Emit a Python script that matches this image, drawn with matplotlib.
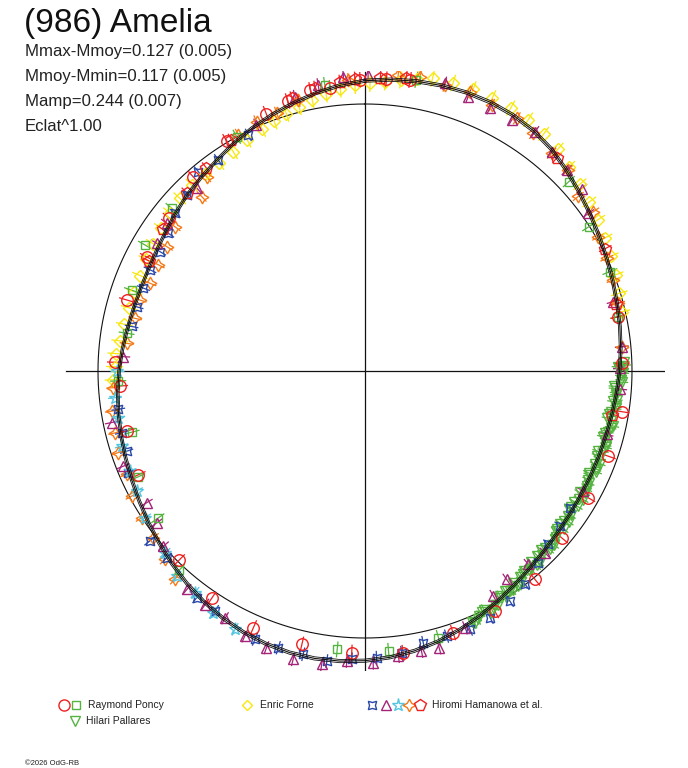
import numpy as np
import matplotlib
matplotlib.use("Agg")
import matplotlib.pyplot as plt
from matplotlib.collections import LineCollection

# ---------------- data ----------------
title = "(986) Amelia"
stats_lines = ["Mmax-Mmoy=0.127 (0.005)", "Mmoy-Mmin=0.117 (0.005)",
               "Mamp=0.244 (0.007)", "Eclat^1.00"]
copyright_text = "\u00a92026 OdG-RB"

# fitted curve: phase angle (deg, clockwise from top) and relative flux
curve_phase = list(range(0, 360, 5))
curve_flux = [1.0873, 1.0955, 1.1022, 1.1071, 1.1101, 1.1105, 1.1071, 1.0993, 1.0854,
              1.0655, 1.0457, 1.0281, 1.0124, 0.9989, 0.9873, 0.9775, 0.9693, 0.9614,
              0.9536, 0.9457, 0.9390, 0.9345, 0.9322, 0.9315, 0.9326, 0.9360, 0.9416,
              0.9502, 0.9618, 0.9768, 0.9944, 1.0135, 1.0322, 1.0494, 1.0644, 1.0764,
              1.0850, 1.0906, 1.0929, 1.0918, 1.0869, 1.0787, 1.0674, 1.0536, 1.0382,
              1.0217, 1.0052, 0.9899, 0.9760, 0.9640, 0.9539, 0.9453, 0.9375, 0.9296,
              0.9213, 0.9124, 0.9041, 0.8981, 0.8951, 0.8963, 0.9015, 0.9109, 0.9240,
              0.9382, 0.9506, 0.9655, 0.9843, 1.0030, 1.0210, 1.0386, 1.0569, 1.0742]
curve_sigma_mag = 0.006

# Raymond Poncy
poncy_circle_phase = [344, 339, 329, 318.5, 308, 297.6, 286.6, 272, 349, 353, 359, 4.2,
                      8.8, 77.9, 88.3, 99, 109.3, 119.6, 130.3, 140.8, 151.6, 161.4,
                      172.3, 182.7, 193, 203.5, 214, 224.5, 245.4, 255.9, 266.5]
poncy_circle_flux = [1.052, 1.033, 1.005, 0.971, 0.931, 0.921, 0.931, 0.937, 1.072,
                     1.067, 1.090, 1.095, 1.103, 0.970, 0.962, 0.973, 0.965, 0.961,
                     0.966, 1.007, 1.022, 1.034, 1.065, 1.056, 1.051, 1.048, 1.027,
                     0.993, 0.934, 0.920, 0.919]
poncy_square_phase = [299.8, 310.1, 289.1, 352, 331.3, 279, 47.1, 57.2, 67.9, 77.9, 88.7,
                      10, 255.3, 245, 234.6, 223, 185.7, 267.7, 175.2, 164.6]
poncy_square_flux = [0.949, 0.946, 0.925, 1.082, 1.000, 0.904, 1.042, 0.998, 0.990,
                     0.970, 0.968, 1.107, 0.903, 0.939, 0.952, 1.020, 1.048, 0.925,
                     1.052, 1.036]

# Enric Forne
forne_phase = [268, 271, 274, 277, 281, 285, 289, 293, 297, 301, 305, 309, 313, 317, 321,
               325, 329, 333, 337, 340, 343, 346, 349, 352, 355, 358, 1, 4, 7, 10, 13,
               17, 21, 25, 29, 33, 37, 41, 45, 49, 53, 57, 61, 65, 69, 73, 77]
forne_flux = [0.944, 0.938, 0.935, 0.925, 0.918, 0.915, 0.914, 0.915, 0.920, 0.925,
              0.932, 0.940, 0.948, 0.952, 0.950, 0.952, 0.958, 0.972, 0.985, 0.995,
              1.008, 1.020, 1.035, 1.048, 1.060, 1.070, 1.077, 1.085, 1.098, 1.112,
              1.125, 1.128, 1.130, 1.128, 1.126, 1.122, 1.112, 1.100, 1.080, 1.066,
              1.052, 1.040, 1.027, 1.016, 1.005, 0.996, 0.988]

# Hiromi Hamanowa et al. (five sets)
ham_blue_phase = [320.1, 314.6, 309.7, 305, 300.2, 295.2, 290.5, 285.7, 280.8, 325.2,
                  333.7, 261.2, 255.8, 251.4, 246.7, 231.7, 226.7, 216.6, 212, 202.3,
                  197.4, 192.3, 187.5, 182.6, 177.7, 172.6, 167.9, 162.9, 157.9, 153.1,
                  147.8, 143.1, 137.9, 133.4, 128.5, 123.7]
ham_blue_flux = [0.973, 0.938, 0.925, 0.899, 0.888, 0.890, 0.886, 0.888, 0.890, 0.963,
                 0.986, 0.935, 0.940, 0.942, 0.965, 1.027, 1.020, 1.057, 1.060, 1.086,
                 1.086, 1.086, 1.096, 1.081, 1.075, 1.064, 1.041, 1.039, 1.044, 1.036,
                 1.018, 0.999, 0.968, 0.945, 0.933, 0.923]
ham_purple_phase = [20.6, 25.4, 30.3, 35.4, 40.4, 45.1, 49.9, 54.8, 74.4, 15.5, 0.6,
                    355.8, 350.7, 345.7, 336.2, 317.4, 306.7, 301.5, 273.4, 258.5, 248.5,
                    238.9, 233.9, 229, 219.2, 214.4, 209.5, 204.4, 199.6, 194, 188.4,
                    183.6, 178.4, 173.3, 168.6, 165, 158.7, 150.3, 145.8, 139.8, 135.3,
                    118.8, 104.7, 94.1, 84.6, 89.4]
ham_purple_flux = [1.098, 1.090, 1.089, 1.099, 1.079, 1.066, 1.061, 1.024, 0.966, 1.118,
                   1.109, 1.105, 1.085, 1.060, 1.007, 0.930, 0.926, 0.915, 0.907, 0.968,
                   0.973, 0.955, 0.965, 1.000, 1.056, 1.060, 1.064, 1.090, 1.100, 1.113,
                   1.110, 1.088, 1.093, 1.075, 1.070, 1.073, 1.032, 0.970, 0.944, 0.948,
                   0.958, 0.933, 0.936, 0.958, 0.966, 0.955]
ham_cyan_phase = [263.9, 259.3, 252.9, 246.9, 242.3, 236.3, 227.7, 222.6, 217.5, 212.1,
                  206.7, 270]
ham_cyan_flux = [0.942, 0.940, 0.954, 0.957, 0.966, 0.990, 1.012, 1.043, 1.046, 1.069,
                 1.083, 0.930]
ham_orange_phase = [10.6, 15.6, 20.6, 25.5, 31, 35.3, 40.6, 45.3, 50.7, 55.1, 60.1, 65,
                    69.9, 75, 84.6, 6.4, 356.7, 346.2, 341.1, 336.5, 331.8, 320.8, 316.9,
                    307.2, 302.1, 297.2, 292.2, 287.5, 282.9, 276.6, 266.2, 261, 256.1,
                    251.7, 246.6, 241.8, 236.7, 231.8, 226.7, 222.4]
ham_orange_flux = [1.121, 1.112, 1.118, 1.103, 1.104, 1.091, 1.074, 1.071, 1.032, 1.043,
                   1.008, 0.999, 0.990, 0.982, 0.966, 1.116, 1.092, 1.045, 1.020, 1.018,
                   1.003, 0.939, 0.895, 0.894, 0.876, 0.870, 0.870, 0.884, 0.884, 0.899,
                   0.945, 0.960, 0.964, 0.973, 0.973, 0.991, 1.001, 1.009, 1.029, 1.056]
ham_pent_phase = [345, 350, 355, 358, 3, 8, 315, 322, 330, 305, 297, 63, 42, 75, 100]
ham_pent_flux = [1.058, 1.078, 1.088, 1.096, 1.100, 1.108, 0.945, 0.965, 1.000, 0.925,
                 0.910, 1.010, 1.075, 0.975, 0.940]

# Hilari Pallares
pallares_phase = [88, 89.5, 91, 92.5, 94, 95.5, 97, 98.5, 100, 101.5, 103, 104.5, 106,
                  107.5, 109, 110.5, 112, 113.5, 115, 116.5, 118, 119.5, 121, 122.5, 124,
                  125.5, 127, 128.5, 130, 131.5, 133, 134.5, 136, 137.5, 139, 140.5, 142,
                  143.5, 145, 146.5, 148, 149.5, 151, 152.5, 154, 155.5, 157,
                  89, 92, 95, 98, 101, 104, 107, 110, 113, 116, 119, 122, 125, 128, 131,
                  134, 137, 140, 143, 146, 149, 152, 155,
                  90.5, 93.5, 96.5, 99.5, 102.5, 105.5, 108.5, 111.5, 114.5, 117.5, 120.5,
                  123.5, 126.5, 129.5, 132.5, 135.5, 138.5, 141.5, 144.5, 147.5, 150.5,
                  153.5, 156.5]
pallares_flux = [0.970, 0.951, 0.959, 0.965, 0.937, 0.945, 0.936, 0.949, 0.928, 0.941,
                 0.944, 0.928, 0.937, 0.947, 0.923, 0.936, 0.930, 0.945, 0.925, 0.938,
                 0.941, 0.924, 0.934, 0.944, 0.922, 0.936, 0.933, 0.951, 0.932, 0.949,
                 0.956, 0.944, 0.956, 0.970, 0.950, 0.966, 0.964, 0.984, 0.968, 0.986,
                 0.996, 0.986, 1.002, 1.020, 1.003, 1.022, 1.023,
                 0.946, 0.960, 0.942, 0.950, 0.925, 0.938, 0.943, 0.926, 0.939, 0.928,
                 0.942, 0.924, 0.941, 0.928, 0.946, 0.961, 0.947, 0.970, 0.964, 0.989,
                 0.982, 1.013, 1.012,
                 0.967, 0.936, 0.949, 0.934, 0.953, 0.924, 0.940, 0.946, 0.920, 0.936,
                 0.949, 0.925, 0.949, 0.933, 0.962, 0.941, 0.972, 0.958, 0.987, 0.976,
                 1.008, 0.999, 1.029]

RED = "#ee2020"
GREEN = "#55b43f"
YELLOW = "#f7e80f"
BLUE = "#2a48a8"
PURPLE = "#a42478"
CYAN = "#55c6e0"
ORANGE = "#f57a18"

STAR4 = (4, 1, 0)
STAR4X = (4, 1, 45)

series = [
    # phase, flux, marker, color, size, err
    (forne_phase, forne_flux, "D", YELLOW, 6.0, 0.032),
    (pallares_phase, pallares_flux, "v", GREEN, 7.4, 0.022),
    (ham_orange_phase, ham_orange_flux, STAR4, ORANGE, 9.2, 0.026),
    (ham_blue_phase, ham_blue_flux, STAR4X, BLUE, 8.6, 0.026),
    (ham_cyan_phase, ham_cyan_flux, "*", CYAN, 9.6, 0.026),
    (ham_purple_phase, ham_purple_flux, "^", PURPLE, 7.8, 0.026),
    (ham_pent_phase, ham_pent_flux, "p", RED, 8.6, 0.026),
    (poncy_square_phase, poncy_square_flux, "s", GREEN, 6.3, 0.030),
    (poncy_circle_phase, poncy_circle_flux, "o", RED, 8.3, 0.030),
]

# ---------------- figure ----------------
W, H = 688, 768
fig = plt.figure(figsize=(W / 100, H / 100), dpi=100)
R_PX = 267.0
HALF = 300.0
cx, cy = 365.0, 371.0
ax = fig.add_axes([(cx - HALF) / W, (H - cy - HALF) / H, 2 * HALF / W, 2 * HALF / H])
lim = HALF / R_PX
ax.set_xlim(-lim, lim)
ax.set_ylim(-lim, lim)
ax.set_aspect("equal")
ax.axis("off")


def to_xy(phase_deg, flux):
    t = np.radians(np.asarray(phase_deg, dtype=float))
    f = np.asarray(flux, dtype=float)
    return f * np.sin(t), f * np.cos(t)


# axes cross and reference circle
L = 1.12
ax.plot([-L, L], [0, 0], color="#111111", lw=0.9, zorder=1)
ax.plot([0, 0], [-L, L], color="#111111", lw=0.9, zorder=1)
tt = np.linspace(0, 2 * np.pi, 721)
ax.plot(np.sin(tt), np.cos(tt), color="#111111", lw=0.8, zorder=1)

# data points with radial error bars
for ph, fl, mk, col, ms, err in series:
    ph = np.asarray(ph, float)
    fl = np.asarray(fl, float)
    x0, y0 = to_xy(ph, fl - err)
    x1, y1 = to_xy(ph, fl + err)
    segs = np.stack([np.column_stack([x0, y0]), np.column_stack([x1, y1])], axis=1)
    ax.add_collection(LineCollection(segs, colors=col, linewidths=0.9, zorder=2))
    x, y = to_xy(ph, fl)
    ax.plot(x, y, ls="none", marker=mk, ms=ms, mfc="none", mec=col, mew=1.0, zorder=3)

# fitted curve with envelope
cp = np.append(curve_phase, curve_phase[0] + 360)
cf = np.append(curve_flux, curve_flux[0])
k = 10 ** (0.4 * curve_sigma_mag)
for fac, lw in [(1.0, 0.8), (k, 0.6), (1 / k, 0.6)]:
    x, y = to_xy(cp, cf * fac)
    ax.plot(x, y, color="#111111", lw=lw, zorder=4)

# ---------------- texts and legend (overlay in pixel coords) ----------------
ov = fig.add_axes([0, 0, 1, 1], zorder=5)
ov.set_xlim(0, W)
ov.set_ylim(H, 0)
ov.axis("off")
ov.patch.set_alpha(0)

FONT = "Liberation Sans"
ov.text(24, 32, title, fontsize=24, family=FONT, color="#111111", va="baseline")
for i, s in enumerate(stats_lines):
    ov.text(25, 56 + 25 * i, s, fontsize=12.1, family=FONT, color="#222222", va="baseline")

leg_y1, leg_y2 = 705, 721
ov.plot(64, leg_y1, marker="o", ms=8, mfc="none", mec=RED, mew=1.0, ls="none")
ov.plot(76, leg_y1, marker="s", ms=6, mfc="none", mec=GREEN, mew=1.0, ls="none")
ov.text(88, leg_y1 + 3.5, "Raymond Poncy", fontsize=7.5, family=FONT, color="#222222")
ov.plot(247, leg_y1, marker="D", ms=5.5, mfc="none", mec=YELLOW, mew=1.0, ls="none")
ov.text(260, leg_y1 + 3.5, "Enric Forne", fontsize=7.5, family=FONT, color="#222222")
for xx, mk, col, ms in [(372, STAR4X, BLUE, 8.5), (386, "^", PURPLE, 7.5),
                        (398, "*", CYAN, 9.5), (409, STAR4, ORANGE, 9),
                        (420, "p", RED, 8.5)]:
    ov.plot(xx, leg_y1, marker=mk, ms=ms, mfc="none", mec=col, mew=1.0, ls="none")
ov.text(432, leg_y1 + 3.5, "Hiromi Hamanowa et al.", fontsize=7.5, family=FONT, color="#222222")
ov.plot(75, leg_y2, marker="v", ms=7, mfc="none", mec=GREEN, mew=1.0, ls="none")
ov.text(86, leg_y2 + 3.5, "Hilari Pallares", fontsize=7.5, family=FONT, color="#222222")

ov.text(25, 765, copyright_text, fontsize=5.5, family=FONT, color="#222222", va="baseline")

fig.savefig("out.png", dpi=100, facecolor="white")
